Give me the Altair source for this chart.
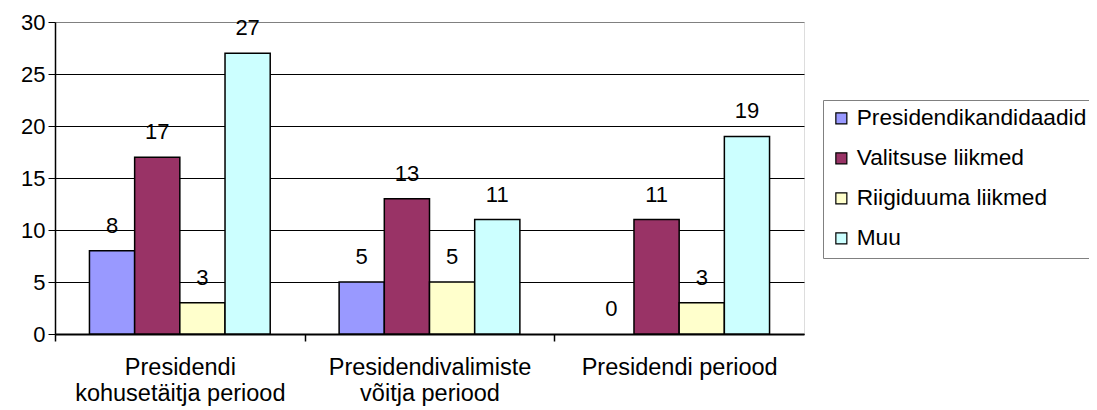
import altair as alt
import pandas as pd

categories = ["Presidendi\nkohusetäitja periood", "Presidendivalimiste\nvõitja periood", "Presidendi periood"]
series = ["Presidendikandidaadid", "Valitsuse liikmed", "Riigiduuma liikmed", "Muu"]
values = {
    "Presidendikandidaadid": [8, 5, 0],
    "Valitsuse liikmed": [17, 13, 11],
    "Riigiduuma liikmed": [3, 5, 3],
    "Muu": [27, 11, 19],
}
colors = ["#9999FF", "#993366", "#FFFFCC", "#CCFFFF"]

rows = []
for s in series:
    for c, v in zip(categories, values[s]):
        rows.append({"cat": c, "series": s, "value": v})
df = pd.DataFrame(rows)

FONT = "Liberation Sans"
W, H = 749, 312
step = W / 3.0

x = alt.X("cat:N", sort=categories, title=None,
          scale=alt.Scale(paddingInner=0.276, paddingOuter=0.138),
          axis=alt.Axis(labelExpr="split(datum.label, '\\n')", labelAngle=0,
                        labelFontSize=23.5, labelLineHeight=26, labelBaseline="top",
                        labelPadding=14, tickSize=7, tickColor="black",
                        domainColor="black", domainWidth=2, tickWidth=1.5,
                        tickOffset=-step / 2, labelOffset=step / 2, labelLimit=400,
                        labelColor="black", labelFont=FONT))
xo = alt.XOffset("series:N", sort=series, scale=alt.Scale(paddingInner=0, paddingOuter=0))
y = alt.Y("value:Q", title=None,
          scale=alt.Scale(domain=[0, 30]),
          axis=alt.Axis(values=[0, 5, 10, 15, 20, 25, 30], labelFontSize=22,
                        labelColor="black", labelFont=FONT, tickSize=7,
                        tickColor="black", domainColor="black", domainWidth=1.5,
                        labelPadding=3, grid=True,
                        gridColor={"condition": {"test": "datum.value == 30", "value": "#808080"},
                                   "value": "black"},
                        gridWidth=1))

bars = alt.Chart(df).mark_bar(stroke="black", strokeWidth=1.5).encode(
    x=x, xOffset=xo, y=y,
    strokeOpacity=alt.condition("datum.value == 0", alt.value(0), alt.value(1)),
    color=alt.Color("series:N", sort=series,
                    scale=alt.Scale(domain=series, range=colors),
                    legend=alt.Legend(title=None, orient="none", legendX=768, legendY=78,
                                      symbolType="square", symbolSize=121,
                                      symbolStrokeColor="black", symbolStrokeWidth=1.2,
                                      labelFontSize=22.7, labelFont=FONT, labelColor="black",
                                      labelLimit=400,
                                      rowPadding=16, padding=7, labelOffset=4,
                                      strokeColor="#808080", fillColor="white")),
)

labels = alt.Chart(df).mark_text(dy=-18, fontSize=22, font=FONT, color="black",
                                 baseline="alphabetic").encode(
    x=alt.X("cat:N", sort=categories), xOffset=xo, y="value:Q", text="value:Q"
)

chart = alt.layer(bars, labels).properties(
    width=W, height=H,
    autosize=alt.AutoSizeParams(type="none"),
    padding={"left": 47, "top": 14, "right": 285, "bottom": 78},
).configure_view(fill="#C0C0C0", stroke="#808080", strokeWidth=2
).configure(background="white")

chart.save("out.html", embed_options={"renderer": "svg", "actions": False})
